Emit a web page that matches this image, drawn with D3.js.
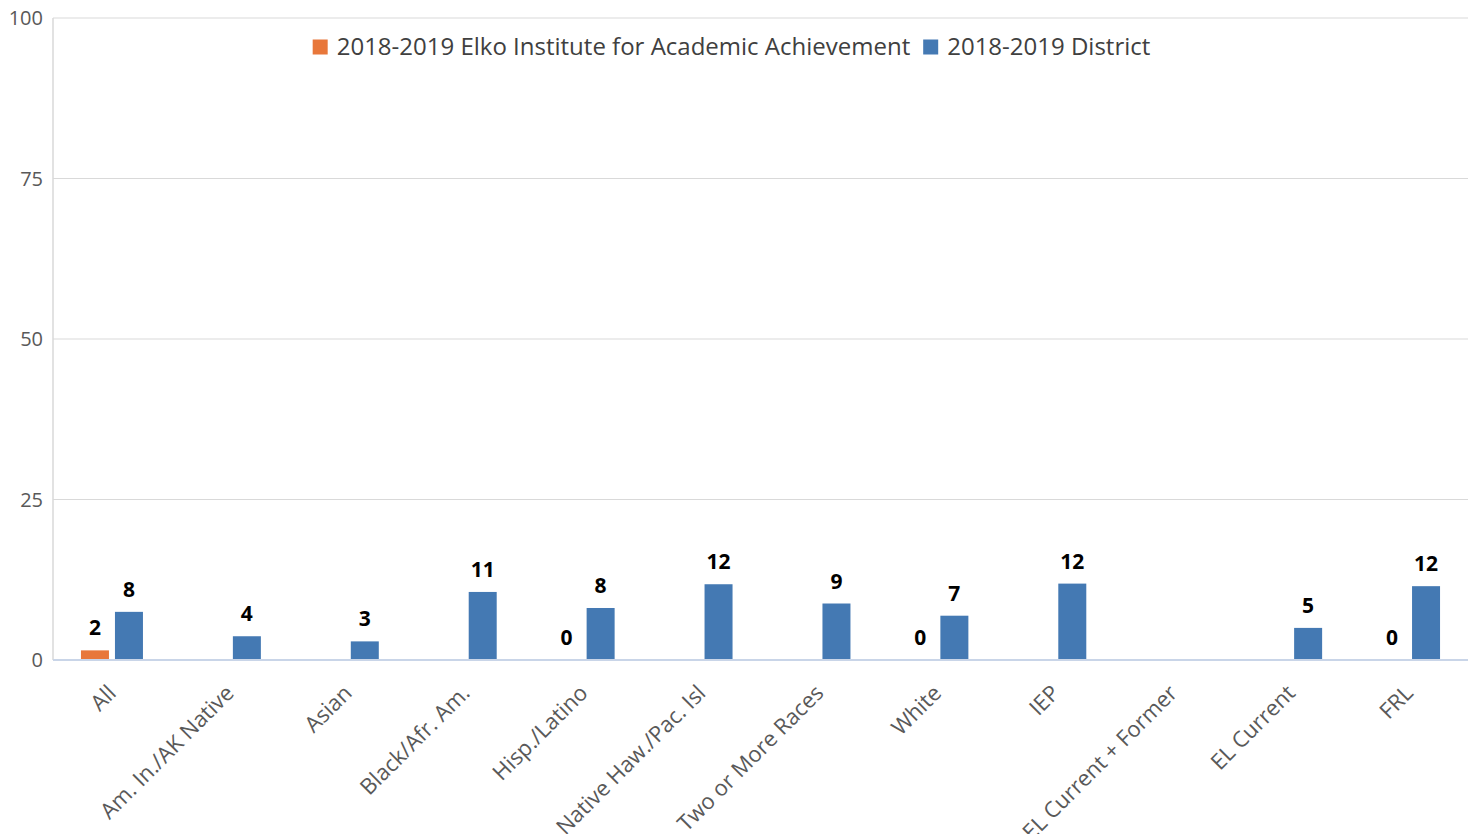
<!DOCTYPE html>
<html>
<head>
<meta charset="utf-8">
<script src="https://cdn.jsdelivr.net/npm/d3@7"></script>
<style>
  body { margin: 0; background: #fff; }
  svg { font-family: "Open Sans", "Noto Sans", sans-serif; }
</style>
</head>
<body>
<svg id="chart"></svg>
<script>
const categories = ["All", "Am. In./AK Native", "Asian", "Black/Afr. Am.", "Hisp./Latino",
  "Native Haw./Pac. Isl", "Two or More Races", "White", "IEP", "EL Current + Former",
  "EL Current", "FRL"];
const schoolValues = [1.5, null, null, null, 0, null, null, 0, null, null, null, 0];
const districtValues = [7.5, 3.7, 2.9, 10.6, 8.1, 11.8, 8.8, 6.9, 11.9, null, 5.0, 11.5];
const seriesNames = ["2018-2019 Elko Institute for Academic Achievement", "2018-2019 District"];
const yTicks = [0, 25, 50, 75, 100];
const colors = ["#e8773a", "#4479b3"];

const width = 1475, height = 834;
const margin = { top: 18, left: 53, bottom: 174, right: 7 };
const innerWidth = width - margin.left - margin.right;
const innerHeight = height - margin.top - margin.bottom;

const svg = d3.select("#chart").attr("width", width).attr("height", height);
const g = svg.append("g").attr("transform", `translate(${margin.left},${margin.top})`);

const x = d3.scaleBand().domain(categories).range([0, innerWidth]);
const y = d3.scaleLinear().domain([0, 100]).range([innerHeight, 0]);
const barW = 28, gap = 6;

// gridlines
g.selectAll(".grid").data(yTicks.filter(d => d > 0)).enter().append("line")
  .attr("x1", 0).attr("x2", innerWidth)
  .attr("y1", d => y(d)).attr("y2", d => y(d))
  .attr("stroke", "#d9d9d9").attr("stroke-width", 1);

// y axis line
g.append("line").attr("x1", 0).attr("x2", 0).attr("y1", 0).attr("y2", innerHeight)
  .attr("stroke", "#d9d9d9").attr("stroke-width", 1.5);

// y tick labels
g.selectAll(".ytick").data(yTicks).enter().append("text")
  .attr("x", -10).attr("y", d => y(d)).attr("dy", "0.35em")
  .attr("text-anchor", "end").attr("font-size", 20).attr("fill", "#595959")
  .text(d => d);

// bars
const series = [schoolValues, districtValues];
series.forEach((vals, s) => {
  const data = categories.map((c, i) => ({ c, v: vals[i] })).filter(d => d.v !== null);
  const off = s === 0 ? -gap / 2 - barW : gap / 2;
  g.selectAll(".bar" + s).data(data).enter().append("rect")
    .attr("x", d => x(d.c) + x.bandwidth() / 2 + off)
    .attr("y", d => y(d.v))
    .attr("width", barW)
    .attr("height", d => innerHeight - y(d.v))
    .attr("fill", colors[s]);
  g.selectAll(".lab" + s).data(data).enter().append("text")
    .attr("x", d => x(d.c) + x.bandwidth() / 2 + off + barW / 2)
    .attr("y", d => y(d.v) - 15)
    .attr("text-anchor", "middle").attr("font-size", 21).attr("font-weight", "bold")
    .attr("fill", "#000")
    .text(d => Math.round(d.v));
});

// baseline
g.append("line").attr("x1", 0).attr("x2", innerWidth).attr("y1", innerHeight).attr("y2", innerHeight)
  .attr("stroke", "#c9d5e8").attr("stroke-width", 2);

// x labels
g.selectAll(".xlab").data(categories).enter().append("text")
  .attr("transform", d => `translate(${x(d) + x.bandwidth() / 2},${innerHeight + 29}) rotate(-45)`)
  .attr("text-anchor", "end").attr("dy", "0.35em")
  .attr("font-size", 22).attr("fill", "#595959")
  .text(d => d);

// legend
const legend = svg.append("g");
let lx = 0;
seriesNames.forEach((n, i) => {
  const item = legend.append("g").attr("transform", `translate(${lx},0)`);
  item.append("rect").attr("x", 0).attr("y", -7.5).attr("width", 15).attr("height", 15).attr("fill", colors[i]);
  const t = item.append("text").attr("x", 24).attr("y", 0).attr("dy", "0.35em")
    .attr("font-size", 24).attr("fill", "#404040").text(n);
  lx += 24 + t.node().getComputedTextLength() + 13;
});
const lw = lx - 13;
legend.attr("transform", `translate(${(310 + 1153) / 2 - lw / 2},47)`);
</script>
</body>
</html>
